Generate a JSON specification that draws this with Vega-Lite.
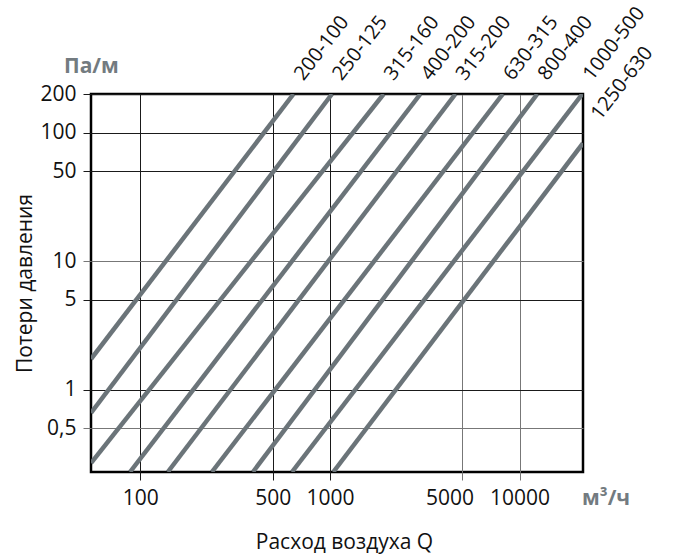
{
  "$schema": "https://vega.github.io/schema/vega-lite/v6.json",
  "width": 492,
  "height": 378,
  "autosize": {"type": "none"},
  "padding": {"left": 91, "top": 94, "right": 100, "bottom": 85},
  "background": "white",
  "config": {
    "font": "Open Sans",
    "view": {"stroke": "#000000", "strokeWidth": 2.5},
    "axis": {
      "domain": false,
      "grid": true,
      "gridWidth": 1,
      "gridOpacity": 1,
      "ticks": true,
      "tickWidth": 1,
      "tickSize": 8,
      "labelFont": "Open Sans",
      "labelFontSize": 21,
      "labelColor": "#111111",
      "labelPadding": 7,
      "labelFlush": false,
      "labelOverlap": false,
      "titleFont": "Open Sans",
      "titleFontSize": 21,
      "titleFontWeight": "normal",
      "titleColor": "#111111"
    }
  },
  "datasets": {
    "lines": [
      {"line": "200-100", "Q": 55, "dP": 1.733},
      {"line": "200-100", "Q": 643, "dP": 200},
      {"line": "250-125", "Q": 55, "dP": 0.659},
      {"line": "250-125", "Q": 1026, "dP": 200},
      {"line": "315-160", "Q": 55, "dP": 0.269},
      {"line": "315-160", "Q": 1921, "dP": 200},
      {"line": "400-200", "Q": 88.3, "dP": 0.229},
      {"line": "400-200", "Q": 3001, "dP": 200},
      {"line": "315-200", "Q": 139.7, "dP": 0.229},
      {"line": "315-200", "Q": 4594, "dP": 200},
      {"line": "630-315", "Q": 238.5, "dP": 0.229},
      {"line": "630-315", "Q": 8163, "dP": 200},
      {"line": "800-400", "Q": 392.6, "dP": 0.229},
      {"line": "800-400", "Q": 12404, "dP": 200},
      {"line": "1000-500", "Q": 630.8, "dP": 0.229},
      {"line": "1000-500", "Q": 21430, "dP": 200},
      {"line": "1250-630", "Q": 1042, "dP": 0.229},
      {"line": "1250-630", "Q": 21600, "dP": 82.9}
    ],
    "labels": [
      {"label": "200-100", "Q": 643, "dP": 200},
      {"label": "250-125", "Q": 1026, "dP": 200},
      {"label": "315-160", "Q": 1921, "dP": 200},
      {"label": "400-200", "Q": 3001, "dP": 200},
      {"label": "315-200", "Q": 4594, "dP": 200},
      {"label": "630-315", "Q": 8163, "dP": 200},
      {"label": "800-400", "Q": 12404, "dP": 200},
      {"label": "1000-500", "Q": 21430, "dP": 200},
      {"label": "1250-630", "Q": 21600, "dP": 82.9}
    ]
  },
  "layer": [
    {
      "data": {"name": "lines"},
      "mark": {"type": "line", "color": "#6b7479", "strokeWidth": 4.5, "strokeCap": "butt", "clip": true},
      "encoding": {
        "x": {
          "field": "Q",
          "type": "quantitative",
          "scale": {"type": "log", "domain": [55, 21600], "nice": false},
          "axis": {
            "values": [100, 500, 1000, 5000, 10000],
            "format": "d",
            "labelOffset": {"condition": {"test": "datum.value == 5000", "value": -13}, "value": 0},
            "gridColor": {"condition": {"test": "datum.value >= 5000", "value": "#777777"}, "value": "#1a1a1a"},
            "tickColor": {"condition": {"test": "datum.value >= 5000", "value": "#777777"}, "value": "#1a1a1a"},
            "title": "Расход воздуха Q",
            "titleX": 253,
            "titleY": 76,
            "titleAlign": "center",
            "titleBaseline": "alphabetic"
          }
        },
        "y": {
          "field": "dP",
          "type": "quantitative",
          "scale": {"type": "log", "domain": [0.229, 200], "nice": false},
          "axis": {
            "values": [0.5, 1, 5, 10, 50, 100, 200],
            "labelExpr": "replace(format(datum.value, '~g'), '.', ',')",
            "gridColor": {"condition": {"test": "datum.value == 10 || datum.value == 0.5", "value": "#777777"}, "value": "#1a1a1a"},
            "tickColor": {"condition": {"test": "datum.value == 10 || datum.value == 0.5", "value": "#777777"}, "value": "#1a1a1a"},
            "title": "Потери давления",
            "titleX": -66,
            "titleY": 189,
            "titleAngle": 270,
            "titleAlign": "center",
            "titleBaseline": "middle"
          }
        },
        "detail": {"field": "line"}
      }
    },
    {
      "data": {"name": "labels"},
      "transform": [{"filter": "datum.label != '1250-630'"}],
      "mark": {"type": "text", "angle": 308, "align": "left", "baseline": "alphabetic", "dx": 16, "dy": 0, "fontSize": 20, "color": "#111111"},
      "encoding": {
        "x": {"field": "Q", "type": "quantitative"},
        "y": {"field": "dP", "type": "quantitative"},
        "text": {"field": "label"}
      }
    },
    {
      "data": {"name": "labels"},
      "transform": [{"filter": "datum.label == '1250-630'"}],
      "mark": {"type": "text", "angle": 308, "align": "left", "baseline": "alphabetic", "dx": 28, "dy": 0, "fontSize": 20, "color": "#111111"},
      "encoding": {
        "x": {"field": "Q", "type": "quantitative"},
        "y": {"field": "dP", "type": "quantitative"},
        "text": {"field": "label"}
      }
    },
    {
      "data": {"values": [{"unit": "Па/м", "Q": 55, "dP": 200}]},
      "mark": {"type": "text", "align": "left", "baseline": "alphabetic", "dx": -27, "dy": -21, "fontSize": 21, "fontWeight": "bold", "color": "#737b80"},
      "encoding": {
        "x": {"field": "Q", "type": "quantitative"},
        "y": {"field": "dP", "type": "quantitative"},
        "text": {"field": "unit"}
      }
    },
    {
      "data": {"values": [{"unit": "м³/ч", "Q": 21600, "dP": 0.229}]},
      "mark": {"type": "text", "align": "left", "baseline": "alphabetic", "dx": -1, "dy": 33, "fontSize": 21, "fontWeight": "bold", "color": "#737b80"},
      "encoding": {
        "x": {"field": "Q", "type": "quantitative"},
        "y": {"field": "dP", "type": "quantitative"},
        "text": {"field": "unit"}
      }
    }
  ]
}
